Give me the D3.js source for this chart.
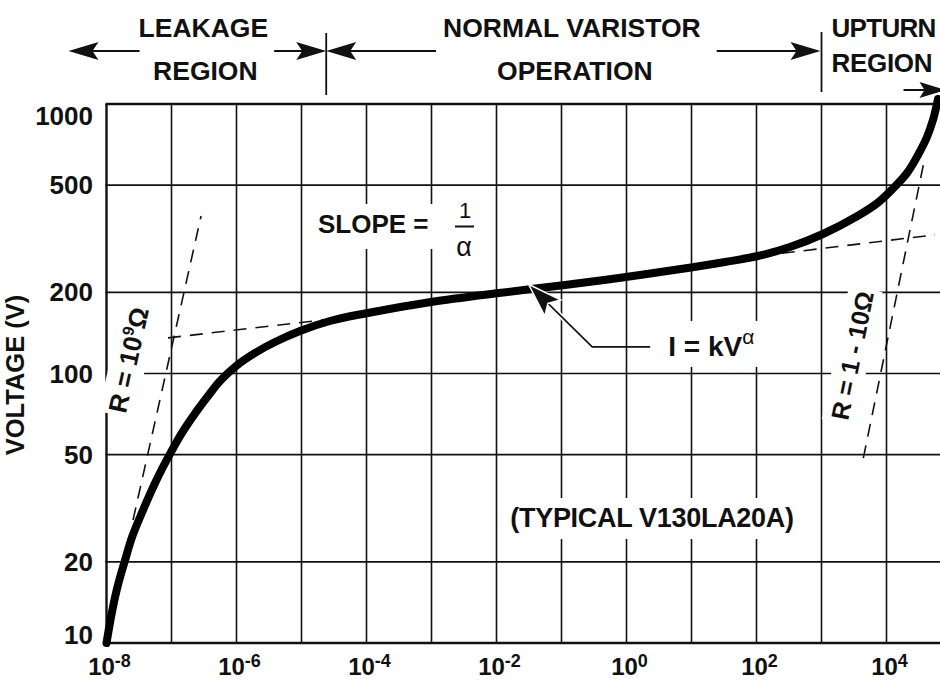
<!DOCTYPE html>
<html><head><meta charset="utf-8">
<script src="https://cdn.jsdelivr.net/npm/d3@7/dist/d3.min.js"></script>
<style>
html,body{margin:0;padding:0;background:#fff;}
svg{display:block;}
text{font-family:"Liberation Sans",Arial,Helvetica,sans-serif;fill:#111;}
</style></head><body>
<svg id="chart" width="940" height="680"></svg>
<script>
// ---------------- DATA ----------------
// V-I characteristic of a typical V130LA20A varistor (current in A, voltage in V)
const currentA = [1e-8, 1.22e-8, 1.50e-8, 1.93e-8, 2.47e-8, 3.28e-8, 5.78e-8, 9.48e-8, 1.45e-7, 2.38e-7,
  3.65e-7, 5.57e-7, 9.82e-7, 1.93e-6, 3.91e-6, 9.48e-6, 2.74e-5, 9.48e-5, 9.82e-4, 1.09e-2,
  9.82e-2, 0.98, 9.82, 32.7, 105.4, 327, 1054, 3580, 7270, 12400,
  20700, 30500, 42000, 51900, 62000];
const voltageV = [10, 13.1, 16.4, 20.3, 24.7, 29.3, 39.9, 50.3, 60.2, 71.9,
  82.5, 93.8, 106.6, 119.2, 130.9, 143.8, 156.6, 167.0, 184.2, 198.9,
  212.1, 228.1, 247.4, 259.3, 272.9, 294.7, 329.3, 384.1, 429.2, 483.8,
  554.6, 647, 754.6, 872.3, 1044];

const xGridValues = [1e-8,1e-7,1e-6,1e-5,1e-4,1e-3,1e-2,1e-1,1e0,1e1,1e2,1e3,1e4];
const xLabelExponents = [-8,-6,-4,-2,0,2,4];
const yTickValues = [10,20,50,100,200,500,1000];
const yTickLabels = ["10","20","50","100","200","500","1000"];

// region boundaries on the current axis (A)
const regionBoundaries = [2.4e-5, 1e3];
const regionTitles = [["LEAKAGE","REGION"],["NORMAL VARISTOR","OPERATION"],["UPTURN","REGION"]];

// dashed construction lines: [current A, voltage V] end points
const leakageResistanceLine = [[2.56e-8, 28.6],[2.85e-7, 384]];
const leakageTangentLine    = [[8.83e-8, 135.6],[3.91e-5, 160.7]];
const upturnTangentLine     = [[113, 273],[55700, 327]];
const upturnResistanceLine  = [[4400, 48.5],[39100, 637]];

// point on the curve that the I = kV^α callout points to
const calloutTarget = [0.033, 206];

const yAxisTitle = "VOLTAGE (V)";
const deviceLabel = "(TYPICAL V130LA20A)";

// ---------------- LAYOUT ----------------
const svg = d3.select("#chart");
const M = {left:106.5, top:104, bottom:643, decade:65};
const x = d3.scaleLog().domain([1e-8,1e5]).range([M.left, M.left + 13*M.decade]);
const y = d3.scaleLog().domain([10,1000]).range([M.bottom, M.top]);
const xRight = x(1e5);
const ink = "#111";

// grid
const grid = svg.append("g");
grid.selectAll("line.v").data(xGridValues).join("line")
  .attr("x1", d=>x(d)).attr("x2", d=>x(d)).attr("y1", M.top).attr("y2", M.bottom)
  .attr("stroke", ink).attr("stroke-width", d=> d===1e-8 ? 2.4 : 1.6);
grid.selectAll("line.h").data(yTickValues).join("line")
  .attr("x1", M.left-1).attr("x2", xRight).attr("y1", d=>y(d)).attr("y2", d=>y(d))
  .attr("stroke", ink).attr("stroke-width", d=> (d===10||d===1000) ? 2.4 : 1.6);

// y tick labels
svg.append("g").selectAll("text").data(yTickValues).join("text")
  .attr("x", 93).attr("y", d=>Math.min(Math.max(y(d), M.top+12), M.bottom-8))
  .attr("dy","0.35em").attr("text-anchor","end")
  .attr("font-size",26).attr("font-weight","bold")
  .text((d,i)=>yTickLabels[i]);

// x tick labels
const xl = svg.append("g").selectAll("text").data(xLabelExponents).join("text")
  .attr("x", d=>x(Math.pow(10,d))+3).attr("y", 675)
  .attr("text-anchor","middle").attr("font-weight","bold");
xl.append("tspan").attr("font-size",24).text("10");
xl.append("tspan").attr("font-size",18).attr("dy",-8).text(d=> d<0 ? "-"+(-d) : String(d));

// y axis title
svg.append("text").attr("transform","translate(24,375) rotate(-90)")
  .attr("text-anchor","middle").attr("font-size",25.5).attr("font-weight","bold").text(yAxisTitle);

// --------- header with region arrows ---------
const hdr = svg.append("g");
const b1 = x(regionBoundaries[0]), b2 = x(regionBoundaries[1]);
const arrowY = 51;
function head(tx, ty, dir, L=30, H=9, N=6){
  return `M${tx},${ty} L${tx-dir*L},${ty-H} L${tx-dir*(L-N)},${ty} L${tx-dir*L},${ty+H} Z`;
}
function hText(str, cx, by, anchor){
  return hdr.append("text").attr("x",cx).attr("y",by).attr("text-anchor",anchor||"middle")
    .attr("font-size",26.5).attr("font-weight","bold").text(str);
}
const leakCx = (M.left-38 + b1)/2 + 6;
const t1 = hText(regionTitles[0][0], leakCx, 37); hText(regionTitles[0][1], leakCx+2, 80);
const normCx = (b1+b2)/2 - 2;
const t2 = hText(regionTitles[1][0], normCx, 37); hText(regionTitles[1][1], normCx+3, 80);
hText(regionTitles[2][0], b2+10, 37, "start").attr("font-size",26).attr("letter-spacing",-0.7);
hText(regionTitles[2][1], b2+10, 72, "start").attr("font-size",26).attr("letter-spacing",-0.3);
const w1 = t1.node().getComputedTextLength(), w2 = t2.node().getComputedTextLength();
const L1 = leakCx - w1/2, R1 = leakCx + w1/2, L2 = normCx - w2/2, R2 = normCx + w2/2;
const hl = (x1,x2,yy)=>hdr.append("line").attr("x1",x1).attr("x2",x2).attr("y1",yy).attr("y2",yy)
  .attr("stroke",ink).attr("stroke-width",1.8);
const hp = d=>hdr.append("path").attr("d",d).attr("fill",ink);
const tipL = M.left - 38;
hl(tipL+10, L1+1, arrowY); hp(head(tipL, arrowY, -1));
hl(R1+6, b1-10, arrowY); hp(head(b1, arrowY, 1));
hp(head(b1, arrowY, -1)); hl(b1+10, L2-7, arrowY);
hl(R2+16, b2-10, arrowY); hp(head(b2-1, arrowY, 1));
hdr.append("line").attr("x1",b1).attr("x2",b1).attr("y1",33).attr("y2",95).attr("stroke",ink).attr("stroke-width",1.8);
hdr.append("line").attr("x1",b2).attr("x2",b2).attr("y1",32).attr("y2",92).attr("stroke",ink).attr("stroke-width",1.8);
hl(b2+82, b2+118, 90); hp(head(b2+124, 90, 1, 26, 8, 5));

// --------- annotation boxes & texts ---------
const ann = svg.append("g");
function boxed(gSel, textSel, pad){
  const bb = textSel.node().getBBox();
  gSel.insert("rect", ":first-child")
    .attr("x", bb.x-pad[3]).attr("y", bb.y-pad[0])
    .attr("width", bb.width+pad[1]+pad[3]).attr("height", bb.height+pad[0]+pad[2])
    .attr("fill","#fff");
}
// SLOPE = 1/α
const gs = ann.append("g");
const ts = gs.append("text").attr("x",318).attr("y",233).attr("font-size",26).attr("font-weight","bold").text("SLOPE =");
boxed(gs, ts, [5,8,10,8]);
gs.append("text").attr("x",465).attr("y",218).attr("text-anchor","middle").attr("font-size",22).text("1");
gs.append("line").attr("x1",455).attr("x2",474).attr("y1",226.5).attr("y2",226.5).attr("stroke",ink).attr("stroke-width",2);
gs.append("text").attr("x",464).attr("y",256).attr("text-anchor","middle").attr("font-size",27).text("α");

// device label
const gd = ann.append("g");
const td = gd.append("text").attr("x",652).attr("y",527).attr("text-anchor","middle")
  .attr("font-size",27).attr("font-weight","bold").attr("letter-spacing",-0.3).text(deviceLabel);
boxed(gd, td, [5,6,6,6]);

// resistance labels along the dashed lines
function rotLabel(line, t, dx, parts){
  const p0 = [x(line[0][0]), y(line[0][1])], p1 = [x(line[1][0]), y(line[1][1])];
  const ang = Math.atan2(p1[1]-p0[1], p1[0]-p0[0]) * 180/Math.PI;
  const cx = p0[0] + t*(p1[0]-p0[0]) + dx, cy = p0[1] + t*(p1[1]-p0[1]);
  const g = ann.append("g").attr("transform",`translate(${cx},${cy}) rotate(${ang})`);
  const tx = g.append("text").attr("text-anchor","middle").attr("dy","0.35em").attr("font-weight","bold");
  parts.forEach(p=>tx.append("tspan").attr("font-size",p.size).attr("dy",p.dy||0).text(p.t));
  boxed(g, tx, [3,3,3,3]);
}
rotLabel(leakageResistanceLine, 0.52, -31,
  [{t:"R = 10",size:26},{t:"9",size:16,dy:-10},{t:"Ω",size:26,dy:10}]);
rotLabel(upturnResistanceLine, 0.335, -23,
  [{t:"R = 1 - 10Ω",size:25}]);

// --------- dashed construction lines ---------
const lineGen = d3.line().x(d=>x(d[0])).y(d=>y(d[1]));
svg.append("g").selectAll("path")
  .data([leakageResistanceLine, leakageTangentLine, upturnTangentLine, upturnResistanceLine])
  .join("path").attr("d", lineGen).attr("fill","none")
  .attr("stroke",ink).attr("stroke-width",1.6).attr("stroke-dasharray","13,9");

// --------- V-I curve ---------
const curveData = currentA.map((c,i)=>[c, voltageV[i]]);
svg.append("path").datum(curveData)
  .attr("d", d3.line().x(d=>x(d[0])).y(d=>y(d[1])).curve(d3.curveCatmullRom.alpha(0.5)))
  .attr("fill","none").attr("stroke","#000").attr("stroke-width",8)
  .attr("stroke-linecap","round").attr("stroke-linejoin","round");

// --------- I = kV^α callout ---------
const tip = [x(calloutTarget[0]), y(calloutTarget[1]) - 3];
const elbow = [tip[0]+62, tip[1]+61];
const endP = [elbow[0]+58, elbow[1]];
const gk = ann.append("g");
const tk = gk.append("text").attr("x", endP[0]+18).attr("y", elbow[1]+9).attr("font-weight","bold");
tk.append("tspan").attr("font-size",28).text("I = kV");
tk.append("tspan").attr("font-size",21).attr("font-weight","normal").attr("dy",-12).text("α");
boxed(gk, tk, [4,9,5,12]);
const cg = svg.append("g");
const ux = (elbow[0]-tip[0]), uy = (elbow[1]-tip[1]); const ul = Math.hypot(ux,uy);
const dirx = ux/ul, diry = uy/ul;
cg.append("path").attr("d",`M${elbow[0]},${elbow[1]} L${tip[0]+dirx*20},${tip[1]+diry*20}`)
  .attr("stroke","#fff").attr("stroke-width",5).attr("fill","none");
cg.append("path").attr("d",`M${endP[0]},${endP[1]} L${elbow[0]},${elbow[1]} L${tip[0]+dirx*20},${tip[1]+diry*20}`)
  .attr("stroke",ink).attr("stroke-width",1.6).attr("fill","none");
const L=30, H=10;
const bx = tip[0]+dirx*L, by = tip[1]+diry*L;
cg.append("path")
  .attr("d",`M${tip[0]},${tip[1]} L${bx - diry*H},${by + dirx*H} L${bx - dirx*6},${by - diry*6} L${bx + diry*H},${by - dirx*H} Z`)
  .attr("fill",ink).attr("stroke","#fff").attr("stroke-width",3).attr("paint-order","stroke");
</script>
</body></html>
